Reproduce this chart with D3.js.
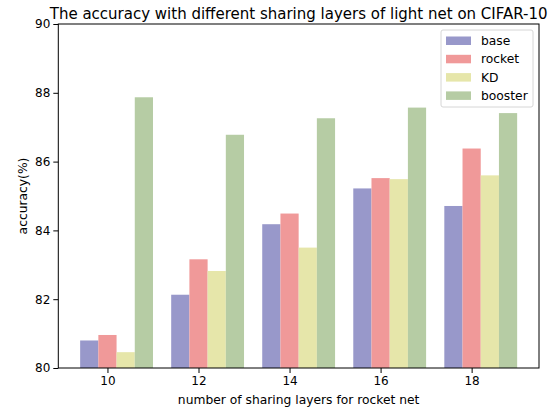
<!DOCTYPE html>
<html>
<head>
<meta charset="utf-8">
<script src="https://d3js.org/d3.v7.min.js"></script>
<style>
  body { margin: 0; background: #fff; }
  text { font-family: "DejaVu Sans", sans-serif; fill: #000; }
</style>
</head>
<body>
<script>
var width = 558;
var height = 409;

// data
const layers = [10, 12, 14, 16, 18];
const series = ["base", "rocket", "KD", "booster"];
const base    = [80.80, 82.13, 84.18, 85.22, 84.71];
const rocket  = [80.96, 83.16, 84.49, 85.52, 86.38];
const kd      = [80.46, 82.82, 83.50, 85.49, 85.60];
const booster = [87.87, 86.78, 87.26, 87.57, 87.41];
const yTicks = [80, 82, 84, 86, 88, 90];
const colors = ["#9898ca", "#f09999", "#e6e6aa", "#b6cca4"];

const values = [base, rocket, kd, booster];
const barW = 0.4;
const offsets = [-0.6, -0.2, 0.2, 0.6]; // left edge of each bar relative to tick

var svg = d3.select("body").append("svg")
    .attr("width", width)
    .attr("height", height);

// plot box (don't call it "top", that's window.top)
var pLeft = 58.3, pRight = 539, pTop = 24, pBottom = 368;

var x = d3.scaleLinear().domain([8.92, 19.48]).range([pLeft, pRight]);
var y = d3.scaleLinear().domain([80, 90]).range([pBottom, pTop]);

// bars
series.forEach(function(name, i) {
    svg.append("g").attr("class", "series")
        .selectAll("rect")
        .data(layers)
        .enter()
        .append("rect")
        .attr("x", function(d) { return x(d + offsets[i]); })
        .attr("width", function(d) { return x(d + offsets[i] + barW) - x(d + offsets[i]); })
        .attr("y", function(d, j) { return y(values[i][j]); })
        .attr("height", function(d, j) { return y(80) - y(values[i][j]); })
        .style("fill", colors[i]);
});

// axes
var xAxis = d3.axisBottom(x).tickValues(layers).tickSize(5).tickPadding(3);
var yAxis = d3.axisLeft(y).tickValues(yTicks).tickSize(5).tickPadding(3);

svg.append("g")
    .attr("transform", "translate(0," + pBottom + ")")
    .call(xAxis)
    .call(function(g) { g.select(".domain").remove(); })
    .selectAll("text").style("font-size", "12px").style("font-family", "DejaVu Sans");

svg.append("g")
    .attr("transform", "translate(" + pLeft + ",0)")
    .call(yAxis)
    .call(function(g) { g.select(".domain").remove(); })
    .selectAll("text").style("font-size", "12px").style("font-family", "DejaVu Sans");

// frame
svg.append("rect")
    .attr("x", pLeft).attr("y", pTop)
    .attr("width", pRight - pLeft).attr("height", pBottom - pTop)
    .style("fill", "none").style("stroke", "#000").style("stroke-width", 1);

// labels
svg.append("text")
    .attr("x", (pLeft + pRight) / 2).attr("y", 19)
    .attr("text-anchor", "middle")
    .style("font-size", "15px")
    .text("The accuracy with different sharing layers of light net on CIFAR-10");

svg.append("text")
    .attr("x", (pLeft + pRight) / 2).attr("y", 404)
    .attr("text-anchor", "middle")
    .style("font-size", "12.3px")
    .text("number of sharing layers for rocket net");

svg.append("text")
    .attr("transform", "translate(27," + (pTop + pBottom) / 2 + ") rotate(-90)")
    .attr("text-anchor", "middle")
    .style("font-size", "12.3px")
    .text("accuracy(%)");

// legend
var lg = svg.append("g").attr("transform", "translate(441,30)");
lg.append("rect")
    .attr("width", 92).attr("height", 77).attr("rx", 2)
    .style("fill", "#fff").style("fill-opacity", 0.8)
    .style("stroke", "#d6d6d6");
series.forEach(function(name, i) {
    lg.append("rect")
        .attr("x", 5).attr("y", 6.5 + i * 18.3)
        .attr("width", 25).attr("height", 8.5)
        .style("fill", colors[i]);
    lg.append("text")
        .attr("x", 40).attr("y", 15 + i * 18.3)
        .style("font-size", "12.3px")
        .text(name);
});
</script>
</body>
</html>
